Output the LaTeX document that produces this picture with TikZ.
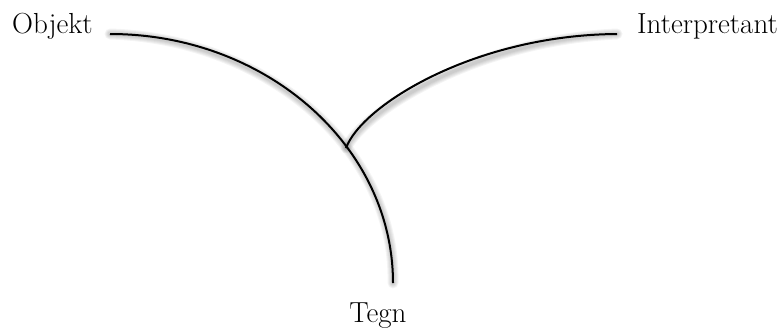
\documentclass[tikz,border=0pt]{standalone}
\begin{document}
\begin{tikzpicture}[x=1pt,y=-1pt,
  lbl/.style={font=\fontsize{29}{34}\selectfont, inner sep=0pt},
  curve/.style={line width=2pt, line cap=butt},
  shade/.style={line cap=round, draw=black, opacity=0.045}]
\useasboundingbox (0,0) rectangle (782,327);
% labels
\node[lbl, anchor=base west] (obj) at (12,33) {Objekt};
\node[lbl, anchor=base west] (int) at (637,33) {Interpretant};
\node[lbl, anchor=base] (tegn) at (378,322) {Tegn};
% end points of the curves
\coordinate (oa) at (110,34);
\coordinate (ta) at (393,283);
\coordinate (jn) at (346,148);
\coordinate (ia) at (617,34);
% shadows
\foreach \w in {11,9,7,5,3}{
  \draw[shade, line width=\w pt, shift={(3,5)}] (oa) .. controls (266,34) and (393,146) .. (ta);
  \draw[shade, line width=\w pt, shift={(3,5)}] (jn) .. controls (362,105) and (475,35) .. (ia);
}
% curves
\draw[curve] (oa) .. controls (266,34) and (393,146) .. (ta);
\draw[curve] (jn) .. controls (362,105) and (475,35) .. (ia);
\end{tikzpicture}
\end{document}
